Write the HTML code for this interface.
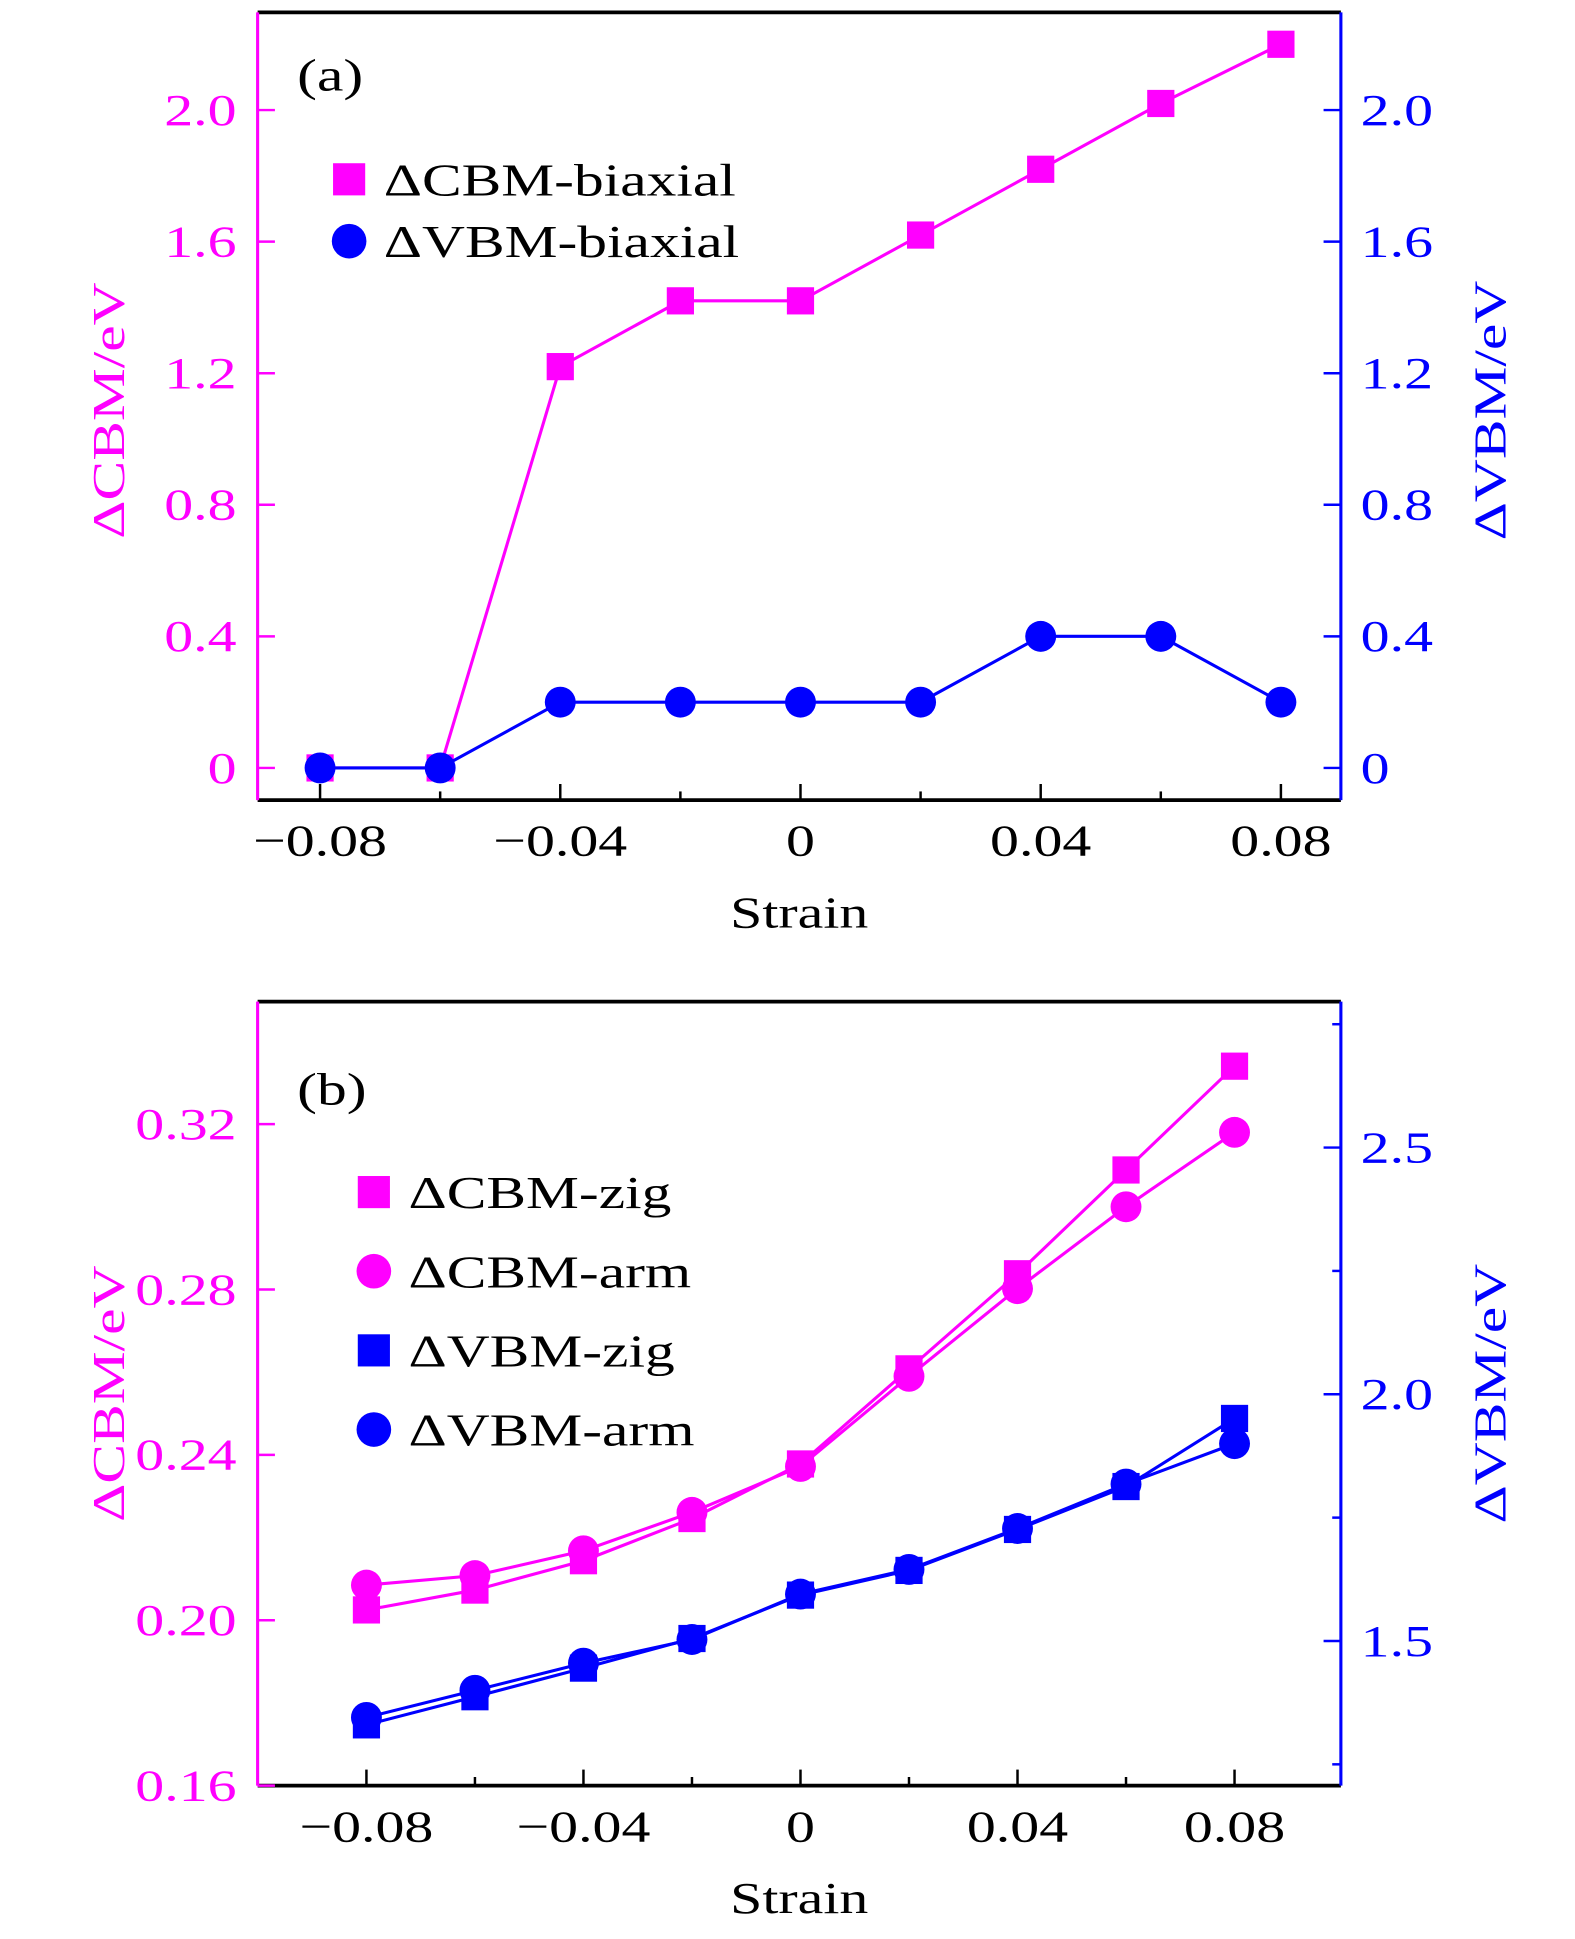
<!DOCTYPE html>
<html><head><meta charset="utf-8">
<style>
html,body{margin:0;padding:0;background:#fff;}
svg{display:block;}
text{font-family:"Liberation Serif",serif;}
</style></head>
<body>
<svg id="chart" width="1575" height="1939" viewBox="0 0 1273 1568" xmlns="http://www.w3.org/2000/svg"></svg>
<script>
// ---- Data: panel (a) ----
const strainA = [-0.08,-0.06,-0.04,-0.02,0,0.02,0.04,0.06,0.08];
const cbmBiaxial = [0,0,1.22,1.42,1.42,1.62,1.82,2.02,2.2];
const vbmBiaxial = [0,0,0.2,0.2,0.2,0.2,0.4,0.4,0.2];
const aYTicks = [0,0.4,0.8,1.2,1.6,2.0];
const aYLabels = ["0","0.4","0.8","1.2","1.6","2.0"];
// ---- Data: panel (b) ----
const strainB = [-0.08,-0.06,-0.04,-0.02,0,0.02,0.04,0.06,0.08];
const cbmZig = [0.2025,0.2073,0.2144,0.2246,0.2378,0.2608,0.2838,0.3089,0.334];
const cbmArm = [0.2085,0.2108,0.2168,0.2261,0.2372,0.259,0.2802,0.30,0.318];
const vbmZig = [1.33,1.387,1.445,1.505,1.593,1.643,1.726,1.813,1.951];
const vbmArm = [1.345,1.40,1.455,1.503,1.595,1.645,1.728,1.818,1.90];
const bLTicks = [0.16,0.20,0.24,0.28,0.32];
const bLLabels = ["0.16","0.20","0.24","0.28","0.32"];
const bRTicks = [1.5,2.0,2.5];
const bRLabels = ["1.5","2.0","2.5"];
const bRMinor = [1.25,1.75,2.25,2.75];
const xTicks = [-0.08,-0.04,0,0.04,0.08];
const xLabels = ["\u22120.08","\u22120.04","0","0.04","0.08"];
const xMinor = [-0.06,-0.02,0.02,0.06];

const NS="http://www.w3.org/2000/svg";
const svg=document.getElementById('chart');
const MAG="#ff00ff", BLU="#0000ff";
const allText=[];
function el(tag,attrs,parent){const e=document.createElementNS(NS,tag);for(const k in attrs)e.setAttribute(k,attrs[k]);(parent||svg).appendChild(e);return e;}
function txt(s,attrs,parent){const e=el('text',attrs,parent);e.textContent=s;allText.push(e);return e;}

const axA={xl:208,xr:1084,yt:10,yb:647,
  x:v=>647+(v/0.04)*194.25, y:v=>621-(v/0.4)*106.4, y2:v=>621-(v/0.4)*106.4};
const axB={xl:208,xr:1084,yt:810,yb:1444,
  x:v=>647+(v/0.04)*175.5, y:v=>1444-((v-0.16)/0.04)*133.75, y2:v=>1327-((v-1.5)/0.5)*199.5};

function frame(ax,g){
  el('line',{x1:ax.xl,y1:ax.yt,x2:ax.xr,y2:ax.yt,stroke:'#000','stroke-width':3},g);
  el('line',{x1:ax.xl,y1:ax.yb,x2:ax.xr,y2:ax.yb,stroke:'#000','stroke-width':3},g);
  el('line',{x1:ax.xl,y1:ax.yt,x2:ax.xl,y2:ax.yb,stroke:MAG,'stroke-width':2.5},g);
  el('line',{x1:ax.xr,y1:ax.yt,x2:ax.xr,y2:ax.yb,stroke:BLU,'stroke-width':2.5},g);
  xTicks.forEach((v,i)=>{const x=ax.x(v);
    el('line',{x1:x,y1:ax.yb,x2:x,y2:ax.yb-13,stroke:'#000','stroke-width':2},g);
    const t=txt(xLabels[i],{x:x,y:ax.yb+45,'text-anchor':'middle','font-size':36,fill:'#000'},g);
    
    
  });
  xMinor.forEach(v=>{const x=ax.x(v);el('line',{x1:x,y1:ax.yb,x2:x,y2:ax.yb-7,stroke:'#000','stroke-width':2},g);});
  const xt=txt('Strain',{x:646,y:ax.yb+103,'text-anchor':'middle','font-size':36,fill:'#000'},g);
  
  
}
function yTicksLeft(ax,vals,labels,g){
  vals.forEach((v,i)=>{const y=ax.y(v);
    el('line',{x1:ax.xl,y1:y,x2:ax.xl+14,y2:y,stroke:MAG,'stroke-width':2},g);
    const t=txt(labels[i],{x:191,y:y+12,'text-anchor':'end','font-size':36,fill:MAG},g);
    
    
  });
}
function yTicksRight(ax,vals,labels,g,minor){
  vals.forEach((v,i)=>{const y=ax.y2(v);
    el('line',{x1:ax.xr,y1:y,x2:ax.xr-14,y2:y,stroke:BLU,'stroke-width':2},g);
    const t=txt(labels[i],{x:1100,y:y+12,'text-anchor':'start','font-size':36,fill:BLU},g);
    
    
  });
  (minor||[]).forEach(v=>{const y=ax.y2(v);el('line',{x1:ax.xr,y1:y,x2:ax.xr-7,y2:y,stroke:BLU,'stroke-width':2},g);});
}
function yTitles(cy,g){
  const l=txt('\u0394CBM/eV',{x:0,y:0,'text-anchor':'middle','font-size':37,fill:MAG,transform:`translate(100,${cy}) rotate(-90)`},g);
  
  
  const r=txt('\u0394VBM/eV',{x:0,y:0,'text-anchor':'middle','font-size':37,fill:BLU,transform:`translate(1217,${cy}) rotate(-90)`},g);
  
  
}
function series(xs,ys,fx,fy,color,shape,g,name){
  const s=el('g',{},g);
  
  
  const pts=xs.map((x,i)=>fx(x)+','+fy(ys[i])).join(' ');
  el('polyline',{points:pts,fill:'none',stroke:color,'stroke-width':2.5},s);
  xs.forEach((x,i)=>{const cx=fx(x),cy=fy(ys[i]);
    let m;
    if(shape==='sq') m=el('rect',{x:cx-11,y:cy-11,width:22,height:22,fill:color},s);
    else m=el('circle',{cx:cx,cy:cy,r:12.5,fill:color},s);
    
    
  });
}
function legend(x,y,color,shape,label,g,name){
  const lg=el('g',{},g);
  
  
  if(shape==='sq') el('rect',{x:x-13,y:y-13,width:26,height:26,fill:color},lg);
  else el('circle',{cx:x,cy:y,r:14,fill:color},lg);
  txt(label,{x:x+28,y:y+13,'font-size':37,fill:'#000'},lg);
}

const gA=el('g',{});


frame(axA,gA);
yTicksLeft(axA,aYTicks,aYLabels,gA);
yTicksRight({xr:axA.xr,y2:axA.y2},aYTicks,aYLabels,gA);
yTitles(332,gA);
txt('(a)',{x:240,y:73,'font-size':37,fill:'#000'},gA);
series(strainA,cbmBiaxial,axA.x,axA.y,MAG,'sq',gA,'cbm-biaxial-series');
series(strainA,vbmBiaxial,axA.x,axA.y2,BLU,'ci',gA,'vbm-biaxial-series');
legend(282,145,MAG,'sq','\u0394CBM-biaxial',gA,'legend-cbm-biaxial');
legend(282,195,BLU,'ci','\u0394VBM-biaxial',gA,'legend-vbm-biaxial');

const gB=el('g',{});


frame(axB,gB);
yTicksLeft(axB,bLTicks,bLLabels,gB);
yTicksRight(axB,bRTicks,bRLabels,gB,bRMinor);
yTitles(1127,gB);
txt('(b)',{x:240,y:893,'font-size':37,fill:'#000'},gB);
series(strainB,cbmZig,axB.x,axB.y,MAG,'sq',gB,'cbm-zig-series');
series(strainB,cbmArm,axB.x,axB.y,MAG,'ci',gB,'cbm-arm-series');
series(strainB,vbmZig,axB.x,axB.y2,BLU,'sq',gB,'vbm-zig-series');
series(strainB,vbmArm,axB.x,axB.y2,BLU,'ci',gB,'vbm-arm-series');
legend(302,964,MAG,'sq','\u0394CBM-zig',gB,'legend-cbm-zig');
legend(302,1028,MAG,'ci','\u0394CBM-arm',gB,'legend-cbm-arm');
legend(302,1092,BLU,'sq','\u0394VBM-zig',gB,'legend-vbm-zig');
legend(302,1156,BLU,'ci','\u0394VBM-arm',gB,'legend-vbm-arm');

allText.forEach(t=>{
  const w=t.getComputedTextLength();
  if(w>0){t.setAttribute('textLength',(w*1.3).toFixed(1));t.setAttribute('lengthAdjust','spacingAndGlyphs');}
});
</script>
</body></html>
